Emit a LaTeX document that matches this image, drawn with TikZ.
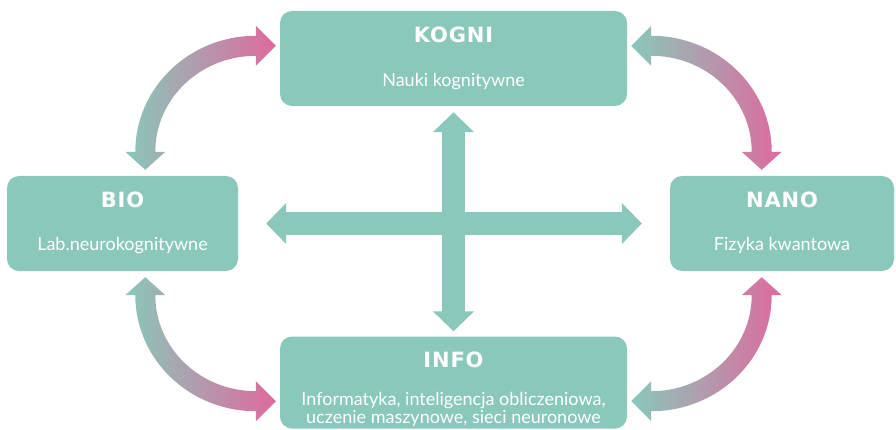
\documentclass[tikz,border=0pt]{standalone}
\usepackage{fontspec}
\setmainfont{Lato}
\newfontfamily\titlefont{DejaVu Sans}[LetterSpace=4]
\usetikzlibrary{arrows.meta,calc}
\definecolor{kteal}{RGB}{137,200,186}
\definecolor{kpink}{RGB}{222,106,158}
\tikzset{
  box/.style={fill=kteal, rounded corners=12pt, minimum height=95pt, inner sep=0pt},
  ttl/.style={font=\titlefont\bfseries\fontsize{21}{24}\selectfont, text=white, anchor=base, inner sep=0pt},
  sub/.style={font=\fontsize{18}{17.5}\selectfont, text=white, anchor=base, inner sep=0pt, align=center},
  cross/.style={draw=kteal, line width=23pt, {Triangle[width=40pt,length=20pt]}-{Triangle[width=40pt,length=20pt]}},
}
\newcommand{\loopArrow}[4]{%
  \shade[#4, shift={(#1)}, xscale=#2, yscale=#3]
    (-120.5,0) -- (-130.5,0) -- (-110.5,-18) -- (-90.5,0) -- (-100.5,0)
    arc[start angle=180, end angle=90, x radius=100.5, y radius=96]
    -- (0,86) -- (20,106) -- (0,126) -- (0,116)
    arc[start angle=90, end angle=180, x radius=120.5, y radius=116] -- cycle;}
\begin{document}
\begin{tikzpicture}[x=1pt,y=1pt]
	\useasboundingbox (0,0) rectangle (896,429);
	\node[box, minimum width=347pt] (kogni) at (453.5,370.5) {};
	\node[box, minimum width=231pt] (bio) at (122.5,205.5) {};
	\node[box, minimum width=224pt] (nano) at (782,205.5) {};
	\node[box, minimum width=347pt, minimum height=92pt] (info) at (453.5,46.5) {};

	\node[ttl] (kogniT) at ([yshift=16]kogni.center) {KOGNI};
	\node[sub] (kogniS) at ([yshift=-28]kogni.center) {Nauki kognitywne};
	\node[ttl] (bioT) at ([yshift=16]bio.center) {BIO};
	\node[sub] (bioS) at ([yshift=-27]bio.center) {Lab.neurokognitywne};
	\node[ttl] (nanoT) at ([yshift=16]nano.center) {NANO};
	\node[sub] (nanoS) at ([yshift=-27]nano.center) {Fizyka kwantowa};
	\node[ttl] (infoT) at ([yshift=15.5]info.center) {INFO};
	\node[sub, anchor=center] (infoS) at ([yshift=-27]info.center) {Informatyka, inteligencja obliczeniowa,\\uczenie maszynowe, sieci neuronowe};

	\draw[cross, shorten <=28pt, shorten >=28pt] (bio) -- (nano);
	\draw[cross, shorten <=6pt, shorten >=5pt] (kogni) -- (info);

	\coordinate (tl) at ($(kogni.west |- bio.north)+(-24,24)$);
	\coordinate (tr) at ($(kogni.east |- nano.north)+(24,24)$);
	\coordinate (bl) at ($(info.west |- bio.south)+(-24,-24)$);
	\coordinate (br) at ($(info.east |- nano.south)+(24,-24)$);
	\loopArrow{tl}{1}{1}{left color=kteal, right color=kpink}
	\loopArrow{tr}{-1}{1}{left color=kteal, right color=kpink}
	\loopArrow{bl}{1}{-1}{left color=kteal, right color=kpink}
	\loopArrow{br}{-1}{-1}{left color=kteal, right color=kpink}
\end{tikzpicture}
\end{document}
